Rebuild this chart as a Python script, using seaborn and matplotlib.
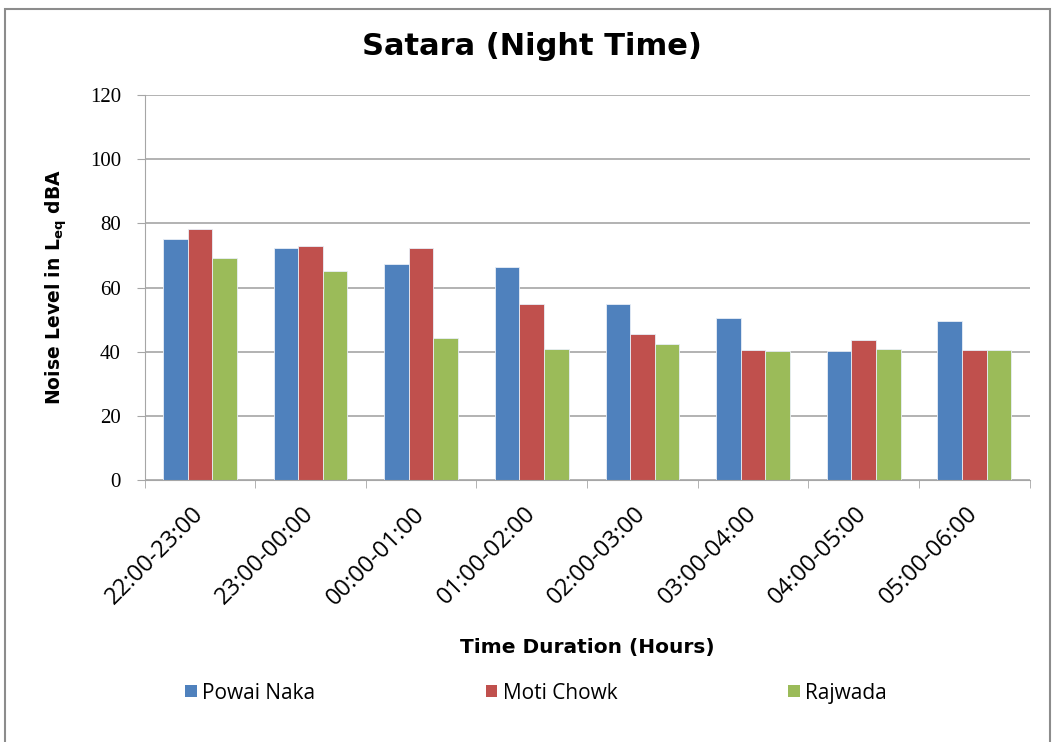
import numpy as np
import pandas as pd
import matplotlib
matplotlib.use('Agg')
import matplotlib.pyplot as plt
import seaborn as sns
from matplotlib.patches import Rectangle, Patch

time_slots = ['22:00-23:00', '23:00-00:00', '00:00-01:00', '01:00-02:00',
              '02:00-03:00', '03:00-04:00', '04:00-05:00', '05:00-06:00']
powai_naka = [75.2, 72.2, 67.3, 66.5, 55.0, 50.4, 40.1, 49.6]
moti_chowk = [78.3, 73.0, 72.2, 55.0, 45.5, 40.5, 43.5, 40.5]
rajwada = [69.1, 65.3, 44.3, 40.9, 42.4, 40.1, 40.8, 40.5]
sites = ['Powai Naka', 'Moti Chowk', 'Rajwada']
colors = ['#4F81BD', '#C0504D', '#9BBB59']

df = pd.DataFrame({
    'time': time_slots * 3,
    'value': powai_naka + moti_chowk + rajwada,
    'site': [s for s in sites for _ in time_slots],
})

sns.set_style('white')
plt.rcParams['font.family'] = ['DejaVu Sans']
plt.rcParams['text.color'] = 'black'
plt.rcParams['xtick.color'] = 'black'
plt.rcParams['ytick.color'] = 'black'
plt.rcParams['axes.labelcolor'] = 'black'

fig = plt.figure(figsize=(10.55, 7.42), dpi=100)
ax = fig.add_axes([0.137, 0.353, 0.839, 0.519])

sns.barplot(data=df, x='time', y='value', hue='site', hue_order=sites,
            palette=colors, saturation=1, width=0.667, edgecolor='#E8EEF7',
            linewidth=0.6, errorbar=None, ax=ax)
ax.get_legend().remove()

ax.set_ylim(0, 120)
ax.set_yticks(np.arange(0, 121, 20))
ax.set_xlim(-0.5, len(time_slots) - 0.5)
ax.yaxis.grid(True, color='#A6A6A6', linewidth=1.2)
ax.set_axisbelow(True)
for side in ['top', 'right']:
    ax.spines[side].set_visible(False)
ax.spines['left'].set_color('#A6A6A6')
ax.spines['bottom'].set_color('#A6A6A6')
ax.tick_params(axis='y', length=6, color='#A6A6A6', pad=11, left=True)
ax.tick_params(axis='x', length=0, pad=22)
ax.set_xticks(range(len(time_slots)))
ax.set_xticklabels(time_slots, rotation=45, ha='right', va='center',
                   rotation_mode='anchor', fontsize=17, family='Open Sans')
for lbl in ax.get_yticklabels():
    lbl.set_family('Liberation Serif')
    lbl.set_fontsize(15)
ax.set_xticks(np.arange(-0.5, len(time_slots), 1), minor=True)
ax.tick_params(axis='x', which='minor', length=6, color='#A6A6A6', bottom=True)

ax.set_xlabel('Time Duration (Hours)', fontsize=14.5, fontweight='bold', labelpad=20)
ax.set_ylabel(r'Noise Level in L$_{\mathbf{eq}}$ dBA', fontsize=13.5,
              fontweight='bold', labelpad=15)
fig.text(0.504, 0.938, 'Satara (Night Time)', ha='center', va='center',
         fontsize=22, fontweight='bold')

handles = [Patch(facecolor=c, edgecolor='none') for c in colors]
fig.legend(handles, sites, loc='center', bbox_to_anchor=(0.508, 0.066), ncol=3,
           frameon=False, prop={'family': 'Open Sans', 'size': 15},
           handlelength=0.55, handleheight=0.55, handletextpad=0.25, columnspacing=8.2)

fig.patches.append(Rectangle((0.005, -0.01), 0.99, 0.998, transform=fig.transFigure,
                             fill=False, edgecolor='#8C8C8C', linewidth=1.5))

fig.savefig('out.png', dpi=100)
